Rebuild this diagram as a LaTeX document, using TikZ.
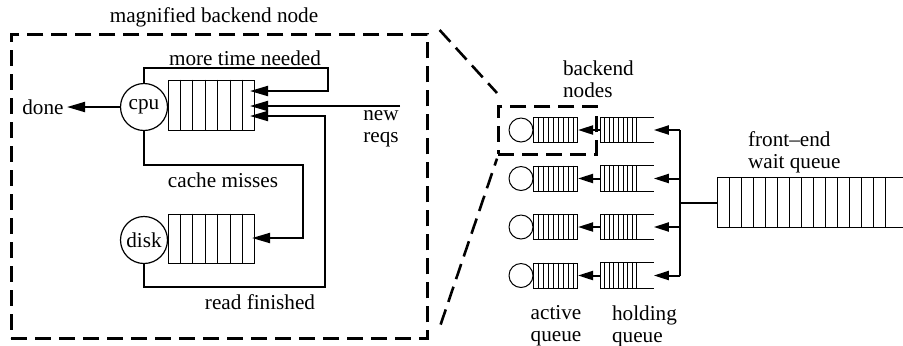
\documentclass[tikz,border=0pt]{standalone}
\usepackage{fontspec}
\setmainfont{Liberation Serif}
\usetikzlibrary{arrows.meta,positioning,calc}

\begin{document}
\begin{tikzpicture}[
x=0.5pt, y=-0.5pt,
font=\fontsize{10.6}{11}\selectfont,
server/.style={circle, draw, line width=0.6pt, minimum size=23.5pt, inner sep=0pt},
bigqueue/.style={rectangle, draw, line width=0.5pt, minimum width=43pt, minimum height=25pt, inner sep=0pt},
smallsrv/.style={circle, draw, line width=0.5pt, minimum size=12pt, inner sep=0pt},
actq/.style={rectangle, draw, line width=0.5pt, minimum width=22pt, minimum height=12.5pt, inner sep=0pt},
holdq/.style={rectangle, minimum width=26.5pt, minimum height=12.5pt, inner sep=0pt},
waitq/.style={rectangle, minimum width=93pt, minimum height=24.5pt, inner sep=0pt},
cell/.style={line width=0.5pt},
flow/.style={line width=1pt, -{Triangle[length=9pt,width=5pt]}},
smallflow/.style={line width=1pt, -{Triangle[length=7.5pt,width=4.5pt]}},
zoombox/.style={draw, line width=1.3pt, dash pattern=on 8pt off 4pt, inner sep=0pt}
]
\useasboundingbox (0,0) rectangle (903,345);

% magnified backend node
\node[zoombox, anchor=north west, minimum width=208pt, minimum height=152pt] (mag) at (10,33) {};
\node (title) at (214,17) {magnified backend node};

\node[server] (cpu) at (144,107) {cpu};
\node[bigqueue, anchor=west] (cpuq) at (168,105) {};
\foreach \k in {1,...,6}
  \draw[cell] ($(cpuq.north west)!\k/7!(cpuq.north east)$) -- ($(cpuq.south west)!\k/7!(cpuq.south east)$);

\node[server] (disk) at (144,240) {disk};
\node[bigqueue, anchor=west, minimum height=24.5pt] (diskq) at (168,238.5) {};
\foreach \k in {1,...,6}
  \draw[cell] ($(diskq.north west)!\k/7!(diskq.north east)$) -- ($(diskq.south west)!\k/7!(diskq.south east)$);

\node[inner sep=1.5pt] (done) at (43,107) {done};
\node (more) at (245,58) {more time needed};
\node (miss) at (223,180) {cache misses};
\node (read) at (260,302) {read finished};
\node[align=right, anchor=east, inner sep=0pt] (newreqs) at (399,129) {new\\reqs};

\coordinate (tmore) at (250,91);
\coordinate (tnew) at (250,106);
\coordinate (tread) at (250,116);
\coordinate (tmiss) at (252,238);
\coordinate (reqs) at (400,106);

\draw[flow] (cpu.west) -- (done.east);
\draw[flow] (cpu.north) |- (328,68) |- (tmore);
\draw[flow] (reqs) -- (tnew);
\draw[flow] (disk.south) |- (325,287) |- (tread);
\draw[flow] (cpu.south) |- (303,165) |- (tmiss);

% backend nodes
\foreach \r/\y in {1/130, 2/178.5, 3/227, 4/275.5} {
  \node[smallsrv] (b\r) at (521,\y) {};
  \node[actq, anchor=west] (a\r) at (533,\y) {};
  \foreach \k in {1,...,8}
    \draw[cell] ($(a\r.north west)!\k/9!(a\r.north east)$) -- ($(a\r.south west)!\k/9!(a\r.south east)$);
  \node[holdq, anchor=west] (h\r) at (600,\y) {};
  \draw[cell] (h\r.north east) -| (h\r.south west) -- (h\r.south east);
  \foreach \k in {1,...,8}
    \draw[cell] ($(h\r.north west)+(4.6*\k,0)$) -- ($(h\r.south west)+(4.6*\k,0)$);
  \coordinate (s\r) at (680,\y);
  \draw[smallflow] (h\r.west) -- (a\r.east);
  \draw[smallflow] (s\r) -- (h\r.east);
}
\draw[line width=1pt] (s1) -- (s4);

\node[zoombox, anchor=north west, minimum width=49pt, minimum height=24pt] (zsel) at (497,105) {};
\node[anchor=west, align=left] (bnlabel) at (556,79) {backend\\nodes};
\draw[zoombox] ($(mag.north east)+(11,-3)$) -- ($(zsel.north west)+(0,-12)$);
\draw[zoombox] ($(mag.south east)+(12,-15)$) -- ($(zsel.south west)+(0,3)$);

% front-end wait queue
\node[waitq, anchor=west] (wq) at (717,202.5) {};
\draw[cell] (wq.north east) -| (wq.south west) -- (wq.south east);
\foreach \k in {1,...,14}
  \draw[cell] ($(wq.north west)+(12*\k,0)$) -- ($(wq.south west)+(12*\k,0)$);
\draw[line width=1pt] (wq.west) -- (wq.west -| s1);
\node[anchor=west, align=left] (wqlabel) at (741,152) {front--end\\wait queue};

\node[align=center] (actlabel) at (556,326) {active\\queue};
\node[anchor=west, align=left] (holdlabel) at (605,326) {holding\\queue};
\end{tikzpicture}
\end{document}
